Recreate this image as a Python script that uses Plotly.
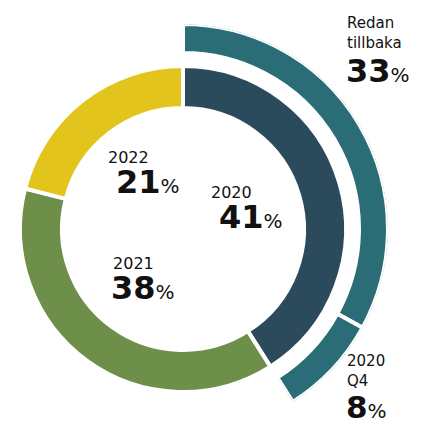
import plotly.graph_objects as go

inner_labels = ["2020", "2021", "2022"]
inner_values = [41, 38, 21]
inner_colors = ["#2b4b5c", "#6e8f4a", "#e2c41d"]

outer_labels = ["Redan<br>tillbaka", "2020<br>Q4"]
outer_values = [33, 8]
outer_colors = ["#2a6d77", "#2a6d77"]

W, H = 433, 426
cx, cy = 183, 229
R_in_out, R_in_hole = 163, 121
R_out_out, R_out_in = 205, 176

fig = go.Figure()

fig.add_trace(go.Pie(
    labels=inner_labels, values=inner_values, sort=False, direction="clockwise",
    rotation=0, hole=R_in_hole / R_in_out,
    marker=dict(colors=inner_colors, line=dict(color="white", width=4)),
    textinfo="none", hoverinfo="skip", showlegend=False,
    domain=dict(x=[(cx - R_in_out) / W, (cx + R_in_out) / W],
                y=[1 - (cy + R_in_out) / H, 1 - (cy - R_in_out) / H]),
))

# outer arcs via barpolar
cum = 0
thetas, widths = [], []
for v in outer_values:
    thetas.append((cum + v / 2) * 3.6)
    widths.append(v * 3.6)
    cum += v
total_deg = cum * 3.6
fig.add_trace(go.Barpolar(
    r=[R_out_out - R_out_in] * len(outer_values), base=[R_out_in] * len(outer_values),
    theta=thetas, width=widths,
    marker=dict(color=outer_colors, line=dict(color="white", width=4)),
    hoverinfo="skip", showlegend=False,
))
fig.update_layout(
    polar=dict(
        sector=[90 - total_deg, 90],
        domain=dict(x=[cx / W, (cx + R_out_out) / W],
                    y=[1 - (cy + 0.844 * R_out_out) / H, 1 - (cy - R_out_out) / H]),
        bgcolor="rgba(0,0,0,0)",
        radialaxis=dict(range=[0, R_out_out], visible=False, showgrid=False),
        angularaxis=dict(rotation=90, direction="clockwise", visible=False, showgrid=False),
        bargap=0,
    )
)

FONT = "DejaVu Sans"
INK = "#111111"
LBL, NUM, PCT = 16, 32, 20
ASC, DESC = 0.928, 0.236
BASE = 23  # line spacing 1.3*23 ~ 30px


def ann(text, x, ymid, size):
    fig.add_annotation(x=x / W, y=1 - ymid / H, xref="paper", yref="paper",
                       text=text, showarrow=False, xanchor="left", yanchor="middle",
                       align="left", borderpad=0, borderwidth=0,
                       font=dict(family=FONT, size=size, color=INK))


def pad(px):
    if px <= 0:
        return ""
    return f"<span style='font-size:{px / 0.318:.1f}px'>&nbsp;</span>"


def num_text(value, size=NUM):
    return (f"<span style='font-size:{size}px'><b>{value}</b></span>"
            f"<span style='font-size:{PCT}px'>%</span>")


def inner_block(label, value, x, b1, indent):
    b2 = b1 + 1.3 * BASE
    top = b1 - ASC * LBL
    bottom = b2 + DESC * NUM
    text = (f"{pad(-indent)}<span style='font-size:{LBL}px'>{label}</span><br>"
            f"{pad(indent)}{num_text(value)}")
    ann(text, x, (top + bottom) / 2, BASE)


inner_block(inner_labels[0], inner_values[0], 211, 198.5, 8)
inner_block(inner_labels[1], inner_values[1], 111, 269.5, -2)
inner_block(inner_labels[2], inner_values[2], 108, 163, 8)

# outer blocks: label (two lines) + number
OL = 15
for label, value, x, b_first, b_num, nsize in [
    (outer_labels[0], outer_values[0], 347, 28, 82, NUM),
    (outer_labels[1], outer_values[1], 347, 366, 418, 31),
]:
    top = b_first - ASC * OL
    bottom = b_first + 1.3 * OL + DESC * OL
    ann(f"<span style='font-size:{OL}px'>{label}</span>", x, (top + bottom) / 2, OL)
    ntop = b_num - ASC * nsize
    nbot = b_num + DESC * nsize
    ann(num_text(value, nsize), x - 1, (ntop + nbot) / 2, nsize)

fig.update_layout(width=W, height=H, margin=dict(l=0, r=0, t=0, b=0),
                  paper_bgcolor="white", plot_bgcolor="white", showlegend=False)
fig.write_html("out.html", config={"displayModeBar": False},
               post_script="document.body.style.margin='0px';document.body.style.overflow='hidden';")
